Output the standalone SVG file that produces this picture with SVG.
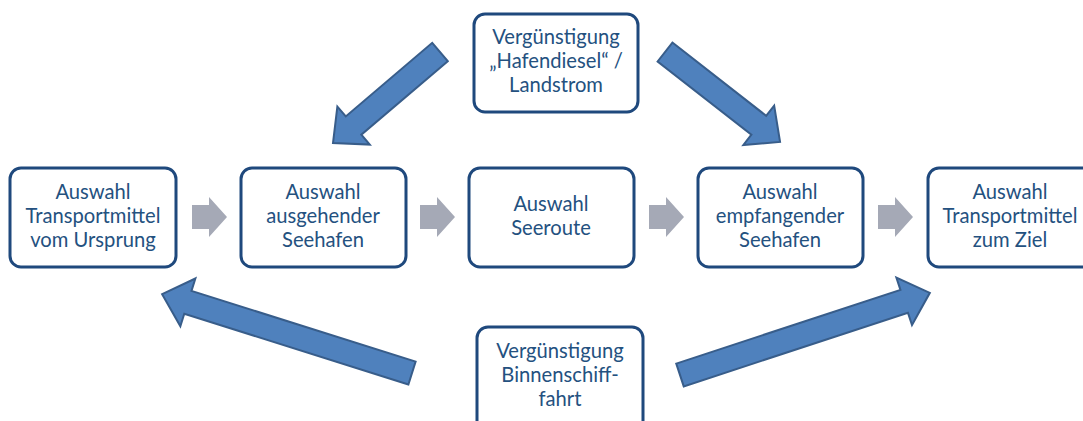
<svg xmlns="http://www.w3.org/2000/svg" width="1083" height="421" viewBox="0 0 1083 421">
<style>
.box{fill:#fff;stroke:#1F497D;stroke-width:3}
.t{font-family:Lato,"Liberation Sans",sans-serif;font-size:20.2px;fill:#24517F;text-anchor:middle}
.big{fill:#4F81BD;stroke:#385D8A;stroke-width:2;stroke-linejoin:miter}
.gr{fill:#A5A9B6}
</style>
<defs>
<polygon id="ga" points="0,8 17,8 17,0 35,20 17,40 17,32 0,32"/>
</defs>
<rect width="1083" height="421" fill="#fff"/>
<g id="connectors">
<use href="#ga" class="gr" x="192" y="197"/>
<use href="#ga" class="gr" x="420" y="197"/>
<use href="#ga" class="gr" x="649" y="197"/>
<use href="#ga" class="gr" x="878" y="197"/>
<polygon class="big" transform="translate(440,52) rotate(139.6)" points="0,-12 113.5,-12 113.5,-25 140.5,0 113.5,25 113.5,12 0,12"/>
<polygon class="big" transform="translate(665,52) rotate(38)" points="0,-12 119,-12 119,-25 146,0 119,25 119,12 0,12"/>
<polygon class="big" transform="translate(412,373) rotate(197.5)" points="0,-12 235,-12 235,-25 262,0 235,25 235,12 0,12"/>
<polygon class="big" transform="translate(680,375) rotate(-18.2)" points="0,-12 236,-12 236,-25 263,0 236,25 236,12 0,12"/>
</g>
<g id="n1"><rect class="box" x="10" y="168" width="166" height="99" rx="11"/>
<text class="t" x="93" y="199">Auswahl</text><text class="t" x="93" y="223">Transportmittel</text><text class="t" x="93" y="247">vom Ursprung</text></g>
<g id="n2"><rect class="box" x="241" y="168" width="165" height="99" rx="11"/>
<text class="t" x="323" y="199">Auswahl</text><text class="t" x="323" y="223">ausgehender</text><text class="t" x="323" y="247">Seehafen</text></g>
<g id="n3"><rect class="box" x="469" y="168" width="165" height="99" rx="11"/>
<text class="t" x="551" y="211">Auswahl</text><text class="t" x="551" y="235">Seeroute</text></g>
<g id="n4"><rect class="box" x="698" y="168" width="165" height="99" rx="11"/>
<text class="t" x="780" y="199">Auswahl</text><text class="t" x="780" y="223">empfangender</text><text class="t" x="780" y="247">Seehafen</text></g>
<g id="n5"><rect class="box" x="928" y="168" width="165" height="99" rx="11"/>
<text class="t" x="1010" y="199">Auswahl</text><text class="t" x="1010" y="223">Transportmittel</text><text class="t" x="1010" y="247">zum Ziel</text></g>
<g id="n6"><rect class="box" x="474" y="14" width="164" height="98" rx="11"/>
<text class="t" x="556" y="44">Vergünstigung</text><text class="t" x="556" y="68">„Hafendiesel“ /</text><text class="t" x="556" y="92">Landstrom</text></g>
<g id="n7"><rect class="box" x="477" y="327" width="166" height="110" rx="11"/>
<text class="t" x="560" y="358">Vergünstigung</text><text class="t" x="560" y="382">Binnenschiff-</text><text class="t" x="560" y="406">fahrt</text></g>
</svg>
